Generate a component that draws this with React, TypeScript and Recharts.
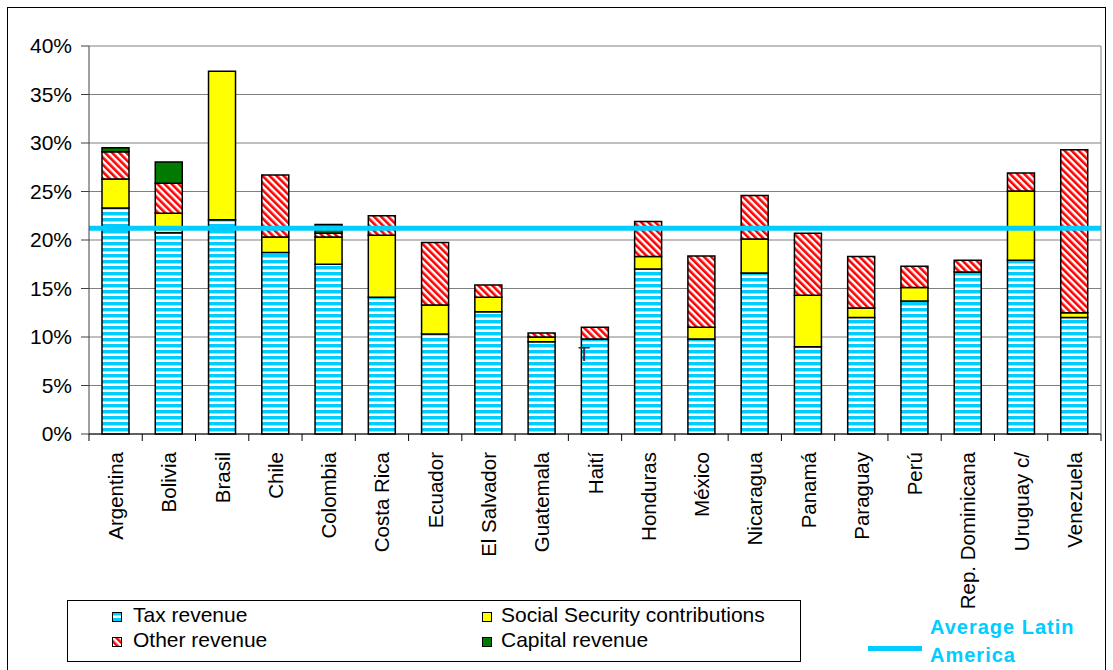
import { BarChart, Bar, XAxis, YAxis, CartesianGrid, ReferenceLine } from 'recharts';

const countries = [
  'Argentina', 'Bolivia', 'Brasil', 'Chile', 'Colombia', 'Costa Rica', 'Ecuador',
  'El Salvador', 'Guatemala', 'Haití', 'Honduras', 'México', 'Nicaragua', 'Panamá',
  'Paraguay', 'Perú', 'Rep. Dominicana', 'Uruguay c/', 'Venezuela',
];
const taxRevenue = [23.3, 20.75, 22.1, 18.7, 17.5, 14.1, 10.3, 12.6, 9.5, 9.8, 17.0, 9.8, 16.6, 9.0, 12.0, 13.7, 16.7, 17.9, 12.0];
const socialSecurity = [3.0, 2.0, 15.3, 1.6, 2.8, 6.4, 3.0, 1.5, 0.5, 0, 1.3, 1.2, 3.5, 5.3, 1.0, 1.4, 0, 7.15, 0.5];
const otherRevenue = [2.8, 3.1, 0, 6.4, 0.4, 2.0, 6.45, 1.25, 0.4, 1.2, 3.6, 7.35, 4.5, 6.4, 5.3, 2.2, 1.2, 1.85, 16.8];
const capitalRevenue = [0.4, 2.2, 0, 0, 0.9, 0, 0, 0, 0, 0, 0, 0, 0, 0, 0, 0, 0, 0, 0];
const averageLatinAmerica = 21.2;
const yTicks = [0, 5, 10, 15, 20, 25, 30, 35, 40];

const data = countries.map((name, i) => ({
  name,
  tax: taxRevenue[i],
  ss: socialSecurity[i],
  other: otherRevenue[i],
  capital: capitalRevenue[i],
}));

const FONT = '"Liberation Sans", Arial, sans-serif';
const CYAN = '#00ccff';
const CHART_W = 1097;
const CHART_H = 650;
const MARGIN = { top: 38, right: 3, bottom: 0, left: 0 };
const Y_W = 81;
const PLOT_W = CHART_W - MARGIN.right - 1 - Y_W;
const BAND = PLOT_W / countries.length;

function CountryTick(props: any) {
  const { x, y, payload, index } = props;
  const right = x + BAND / 2;
  const ty = y + 18;
  return (
    <g>
      {index === 0 && <line x1={x - BAND / 2} x2={x - BAND / 2} y1={y} y2={y + 7} stroke="#000" />}
      <line x1={right} x2={right} y1={y} y2={y + 7} stroke="#000" />
      <text
        x={x}
        y={ty}
        transform={`rotate(-90, ${x}, ${ty})`}
        textAnchor="end"
        dominantBaseline="central"
        fontSize={20.5}
        fontFamily={FONT}
        fill="#000"
      >
        {payload.value}
      </text>
    </g>
  );
}

function LegendIcon({ x, y, fill }: { x: number; y: number; fill: string }) {
  return <rect x={x + 0.5} y={y + 0.5} width={9} height={9} fill={fill} stroke="#000" strokeWidth={1} />;
}

export default function App() {
  return (
    <div style={{ position: 'relative', width: CHART_W, height: 662, fontFamily: FONT }}>
      <div
        style={{
          position: 'fixed',
          left: 7,
          top: 7,
          width: 1097,
          height: 700,
          border: '1px solid #000',
          pointerEvents: 'none',
          zIndex: 5,
        }}
      />
      <svg width={0} height={0} style={{ position: 'absolute' }}>
        <defs>
          <pattern id="taxPat" patternUnits="userSpaceOnUse" width={6} height={6}>
            <rect width={6} height={6} fill="#fff" />
            <rect y={0} width={6} height={3} fill={CYAN} />
            <rect y={3} width={6} height={1} fill="#8fe3ff" />
          </pattern>
          <pattern id="otherPat" patternUnits="userSpaceOnUse" width={5} height={5} patternTransform="rotate(-45)">
            <rect width={5} height={5} fill="#fff" />
            <rect width={2.6} height={5} fill="#ff0000" />
          </pattern>
        </defs>
      </svg>

      <BarChart width={CHART_W} height={CHART_H} data={data} margin={MARGIN} barSize={27}>
        <CartesianGrid vertical={false} stroke="#808080" />
        <XAxis
          dataKey="name"
          interval={0}
          height={CHART_H - MARGIN.top - 388}
          tickLine={false}
          tickSize={0}
          tickMargin={0}
          axisLine={{ stroke: '#000' }}
          tick={<CountryTick />}
        />
        <YAxis
          width={Y_W}
          domain={[0, 40]}
          ticks={yTicks}
          tickFormatter={(v) => `${v}%`}
          tickSize={8}
          tickMargin={9}
          axisLine={{ stroke: '#404040' }}
          tickLine={{ stroke: '#404040' }}
          tick={{ fill: '#000', fontSize: 21, fontFamily: FONT }}
        />
        <YAxis
          yAxisId="right"
          orientation="right"
          width={1}
          domain={[0, 40]}
          tick={false}
          tickLine={false}
          axisLine={{ stroke: '#808080' }}
        />
        <Bar dataKey="tax" stackId="a" fill="url(#taxPat)" stroke="#000" strokeWidth={1.5} isAnimationActive={false} />
        <Bar dataKey="ss" stackId="a" fill="#ffff00" stroke="#000" strokeWidth={1.5} isAnimationActive={false} />
        <Bar dataKey="other" stackId="a" fill="url(#otherPat)" stroke="#000" strokeWidth={1.5} isAnimationActive={false} />
        <Bar dataKey="capital" stackId="a" fill="#007a00" stroke="#000" strokeWidth={1.5} isAnimationActive={false} />
        <ReferenceLine y={averageLatinAmerica} stroke={CYAN} strokeWidth={5} />
      </BarChart>

      <svg
        width={1113}
        height={670}
        style={{ position: 'absolute', left: -8, top: -8, pointerEvents: 'none' }}
        fontFamily={FONT}
      >
        <text x={578} y={361} fontSize={20} fill="#333">T</text>

        <rect x={67.5} y={600.5} width={733} height={61} fill="#fff" stroke="#000" />
        <LegendIcon x={112} y={612} fill="url(#taxPat)" />
        <text x={133} y={622} fontSize={21} fill="#000">Tax revenue</text>
        <LegendIcon x={112} y={637} fill="url(#otherPat)" />
        <text x={133} y={647} fontSize={21} fill="#000">Other revenue</text>
        <LegendIcon x={482} y={612} fill="#ffff00" />
        <text x={501} y={622} fontSize={21} fill="#000">Social Security contributions</text>
        <LegendIcon x={482} y={637} fill="#007a00" />
        <text x={501} y={647} fontSize={21} fill="#000">Capital revenue</text>

        <rect x={868} y={646} width={54} height={5} fill={CYAN} />
        <text x={930} y={634} fontSize={20} fontWeight="bold" letterSpacing={1} fill={CYAN}>Average Latin</text>
        <text x={930} y={662} fontSize={20} fontWeight="bold" letterSpacing={1} fill={CYAN}>America</text>
      </svg>
    </div>
  );
}
